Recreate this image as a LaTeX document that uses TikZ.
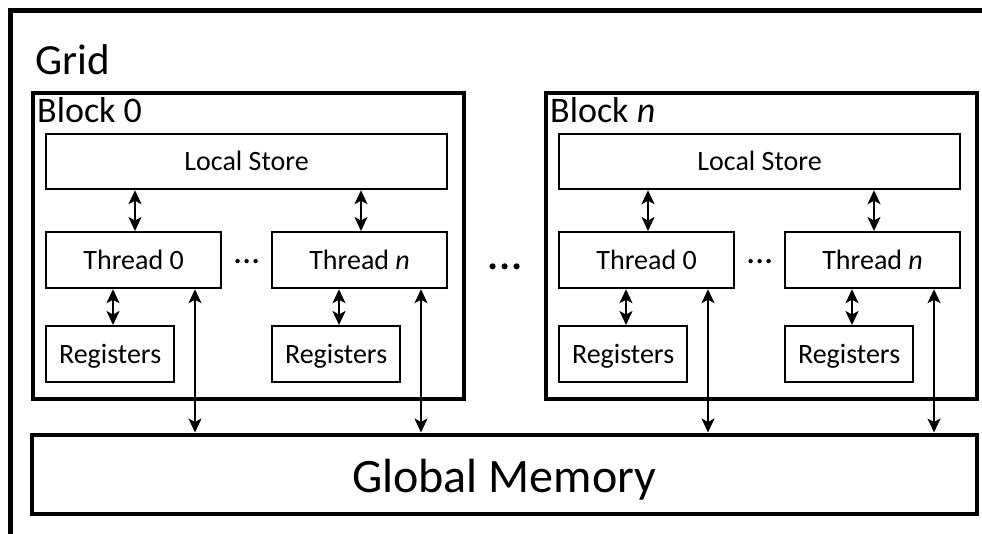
\documentclass[tikz,border=0pt]{standalone}
\usepackage{fontspec}
\setmainfont{Carlito}
\usetikzlibrary{arrows.meta,calc}
\begin{document}
\begin{tikzpicture}[x=1pt,y=-1pt,
  box/.style={draw,line width=2.2pt,inner sep=0pt,anchor=north west,
    text height=18pt,text depth=0pt,font=\fontsize{28}{30}\selectfont},
  frame/.style={draw,line width=4.2pt,inner sep=0pt,anchor=north west},
  label/.style={anchor=base west,inner sep=0pt},
  link/.style={line width=2pt,{Stealth[length=14pt,width=13pt,inset=3.5pt]}-{Stealth[length=14pt,width=13pt,inset=3.5pt]}},
]
\useasboundingbox (0,0) rectangle (982,533);

% outer grid frame, running off the right and bottom edges
\begin{scope}
  \clip (0,0) rectangle (982,533);
  \draw[line width=4.2pt] (10.5,560) -- (10.5,10.5) -- (1000,10.5);
\end{scope}
\node[label,font=\fontsize{43}{46}\selectfont] (grid) at (35,74.5) {Grid};

% global memory
\node[frame,minimum width=945pt,minimum height=79pt,text height=36pt,text depth=0pt,
  font=\fontsize{48}{52}\selectfont] (gm) at (29.5,432.5) {Global Memory};

% the two blocks
\foreach \b/\dx/\lab in {0/0/0, n/513/\textit{n}}{
  \node[frame,minimum width=431pt,minimum height=306.5pt] (blk\b) at (30.5+\dx,90.5) {};
  \node[label,font=\fontsize{36}{40}\selectfont] (bl\b) at (37+\dx,122) {Block \lab};
  \node[box,minimum width=401pt,minimum height=55pt] (ls\b) at (45+\dx,133) {Local Store};
  \node[box,minimum width=175pt,minimum height=56pt] (ta\b) at (45+\dx,231) {Thread 0};
  \node[box,minimum width=175pt,minimum height=56pt] (tb\b) at (271+\dx,231) {Thread \textit{n}};
  \node[box,minimum width=128pt,minimum height=56pt] (ra\b) at (45+\dx,325) {Registers};
  \node[box,minimum width=128pt,minimum height=56pt] (rb\b) at (271+\dx,325) {Registers};
  % small dots between the two threads
  \foreach \k in {-9,0,9}
    \fill ($(ta\b.east)!0.5!(tb\b.west)+(\k,1)$) circle (2.2pt);
  \foreach \t/\r in {ta/ra, tb/rb}{
    \draw[link] ([xshift=90pt]\t\b.north west) -- ([xshift=90pt]\t\b.north west |- ls\b.south);
    \draw[link] ([xshift=68pt]\t\b.south west) -- ([xshift=68pt]\t\b.south west |- \r\b.north);
    \draw[link] ([xshift=150pt]\t\b.south west) -- ([xshift=150pt]\t\b.south west |- gm.north);
  }
}

% larger dots between the blocks
\foreach \k in {-12,0,12}
  \fill ($(blk0.east)!0.5!(blkn.west)+(\k,20.5)$) circle (3.1pt);
\end{tikzpicture}
\end{document}
